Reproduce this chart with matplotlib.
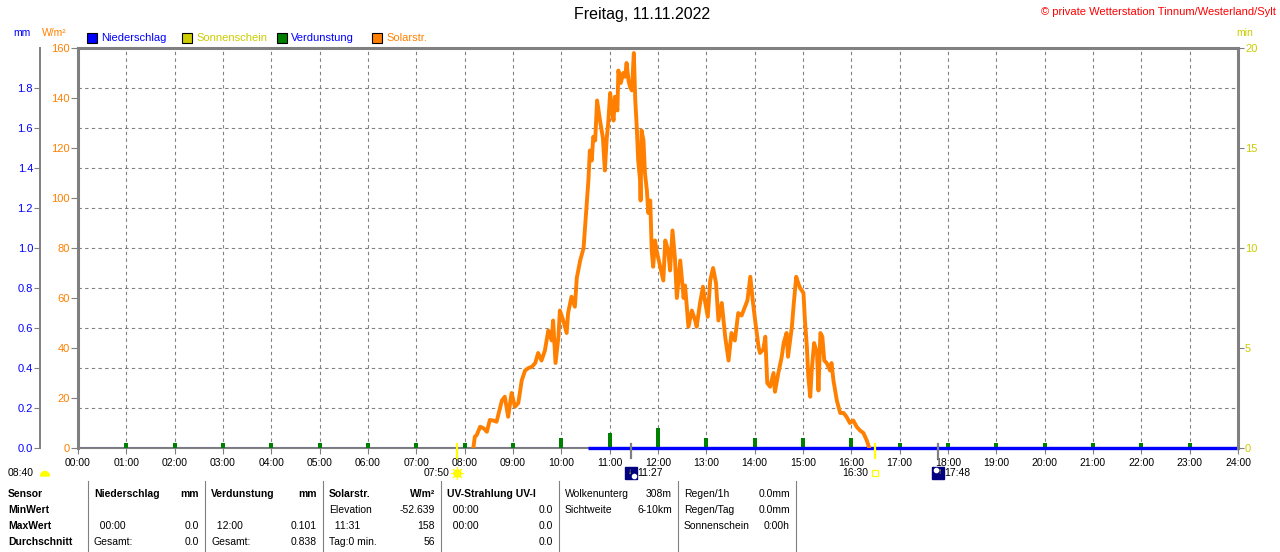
import numpy as np
import matplotlib
matplotlib.use("Agg")
import matplotlib.pyplot as plt
from matplotlib.patches import Rectangle, Wedge
import matplotlib.transforms as mtransforms

plt.rcParams['font.family'] = ['Liberation Sans', 'DejaVu Sans']

# ---- data ----
title = "Freitag, 11.11.2022"
credit = "\u00a9 private Wetterstation Tinnum/Westerland/Sylt"

hour_labels = ["%02d:00" % h for h in range(25)]

# Solarstrahlung W/m2 (time in decimal hours)
solar_t = [8.18, 8.21, 8.25, 8.32, 8.39, 8.46, 8.52, 8.59, 8.66, 8.77, 8.83, 8.90, 8.97,
           9.04, 9.11, 9.18, 9.25, 9.32, 9.39, 9.46, 9.52, 9.59, 9.66, 9.73, 9.80, 9.83,
           9.88, 9.94, 9.97, 10.04, 10.11, 10.14, 10.21, 10.28, 10.32, 10.39, 10.46, 10.49,
           10.53, 10.56, 10.59, 10.63, 10.66, 10.70, 10.74, 10.80, 10.86, 10.90, 10.94, 10.97,
           11.01, 11.04, 11.08, 11.11, 11.16, 11.18, 11.23, 11.28, 11.32, 11.35, 11.39, 11.42,
           11.46, 11.50, 11.53, 11.56, 11.59, 11.63, 11.64, 11.66, 11.70, 11.73, 11.77, 11.80,
           11.84, 11.87, 11.90, 11.94, 11.97, 12.04, 12.11, 12.15, 12.21, 12.25, 12.30, 12.35,
           12.39, 12.46, 12.53, 12.56, 12.63, 12.70, 12.77, 12.80, 12.87, 12.93, 12.97, 13.03,
           13.08, 13.14, 13.20, 13.25, 13.32, 13.39, 13.46, 13.52, 13.59, 13.66, 13.73, 13.80,
           13.85, 13.91, 13.96, 14.01, 14.08, 14.11, 14.18, 14.22, 14.26, 14.32, 14.39, 14.42,
           14.49, 14.56, 14.60, 14.66, 14.69, 14.77, 14.81, 14.86, 14.90, 14.94, 15.01, 15.04,
           15.08, 15.11, 15.15, 15.18, 15.23, 15.29, 15.32, 15.36, 15.40, 15.44, 15.49, 15.56,
           15.59, 15.63, 15.70, 15.77, 15.84, 15.90, 15.97, 16.04, 16.11, 16.18, 16.25, 16.32,
           16.37]
solar_v = [0, 4.5, 5.2, 8.5, 7.9, 6.5, 11.2, 11, 10.5, 19, 20.5, 12.5, 22,
           16.5, 18, 27, 31, 32, 32.5, 34, 38, 35, 39, 47, 43, 51,
           34, 44.5, 55, 51, 46, 54, 60.5, 56.5, 68, 75, 80, 88,
           99, 107, 119, 115, 124.5, 123, 139, 131, 124, 111, 124, 130,
           142, 136.5, 131, 140.5, 135, 151, 146, 150, 148.5, 154, 147, 144.5,
           143, 158, 139, 128.5, 115, 107, 99, 127, 123, 110, 103, 94,
           99, 79, 72.5, 83, 79, 73, 67, 83, 79, 71, 87, 76,
           60, 75, 60, 65, 48.5, 55, 51, 48.5, 58, 64.5, 59, 52.5,
           67, 72, 66, 51, 58, 44.5, 35, 46, 43, 54, 53, 56.5,
           59, 68.5, 59, 51, 40.5, 38, 39.5, 44.5, 26, 24.5, 30, 22.5,
           30, 36.5, 42, 46, 36.5, 48.5, 58, 68.5, 66, 64, 62, 51,
           40.5, 28.5, 20.5, 31, 42, 38, 23, 46, 44.5, 35, 34, 31,
           34, 27, 19, 14, 14, 12.5, 10, 11, 8.5, 7, 6, 3,
           0]

# Verdunstung mm (hourly)
evap_t = list(range(1, 24))
evap_v = [0.025, 0.025, 0.025, 0.025, 0.025, 0.025, 0.025, 0.025, 0.025,
          0.05, 0.075, 0.101, 0.05, 0.05, 0.05, 0.05,
          0.025, 0.025, 0.025, 0.025, 0.025, 0.025, 0.025]

# Niederschlag mm
rain_t = [10.55, 24.0]
rain_v = [0.0, 0.0]

# sun / moon events
sunrise, sunset = 7 + 50 / 60, 16.5
moonset, moonrise = 11 + 27 / 60, 17.8
daylen_label = "08:40"

mm_ticks = [0.0, 0.2, 0.4, 0.6, 0.8, 1.0, 1.2, 1.4, 1.6, 1.8]
wm_ticks = [0, 20, 40, 60, 80, 100, 120, 140, 160]
min_ticks = [0, 5, 10, 15, 20]

table_rows = ["Sensor", "MinWert", "MaxWert", "Durchschnitt"]
table_cols = [
    # (left x, right x, [(row, left text, right text, bold)])
    (88, 205, [(0, "Niederschlag", "mm", True), (2, "  00:00", "0.0", False),
               (3, "Gesamt:", "0.0", False)]),
    (205, 323, [(0, "Verdunstung", "mm", True), (2, "  12:00", "0.101", False),
                (3, "Gesamt:", "0.838", False)]),
    (323, 441, [(0, "Solarstr.", "W/m\u00b2", True), (1, "Elevation", "-52.639", False),
                (2, "  11:31", "158", False), (3, "Tag:0 min.", "56", False)]),
    (441, 559, [(0, "UV-Strahlung UV-I", "", True), (1, "  00:00", "0.0", False),
                (2, "  00:00", "0.0", False), (3, "", "0.0", False)]),
    (559, 678, [(0, "Wolkenunterg", "308m", False), (1, "Sichtweite", "6-10km", False)]),
    (678, 796, [(0, "Regen/1h", "0.0mm", False), (1, "Regen/Tag", "0.0mm", False),
                (2, "Sonnenschein", "0:00h", False)]),
]

GREY = '#808080'
BLUE = '#0000ff'
ORANGE = '#ff8000'
YEL = '#cccc00'
GREEN = '#008000'
FS = 7.5

W, H = 1280, 552


def fx(x):
    return x / W


def fy(y):
    return 1 - y / H


fig = plt.figure(figsize=(12.8, 5.52), dpi=100)
ax = fig.add_axes([fx(78), fy(448), 1160 / W, 400 / H])

# mm axis (main), spine shifted to the left (set position first: it resets ticks)
ax.spines['left'].set_position(('axes', -38 / 1160))
ax.spines['left'].set_color(GREY)
ax.spines['left'].set_linewidth(1.4)
ax.spines['right'].set_visible(False)
ax.spines['top'].set_color(GREY)
ax.spines['top'].set_linewidth(2.2)
ax.spines['bottom'].set_color(GREY)
ax.spines['bottom'].set_linewidth(1.5)
ax.set_xlim(0, 24)
ax.set_ylim(0, 2.0)
ax.set_xticks(range(25))
ax.set_xticklabels(hour_labels, fontsize=FS)
ax.set_yticks(mm_ticks)
ax.set_yticklabels(["%.1f" % v for v in mm_ticks], fontsize=FS + 0.5, color=BLUE)
ax.tick_params(axis='y', length=4, color=GREY, pad=1)
ax.tick_params(axis='x', length=4, color=GREY, pad=3)
ax.grid(True, color=GREY, linestyle=(0, (3, 3)), linewidth=0.8)

ax.bar(evap_t, evap_v, width=0.08, color=GREEN, zorder=3)
ax.axhline(0, color=BLUE, lw=0.8, zorder=4)
ax.plot(rain_t, rain_v, color=BLUE, lw=2.4, zorder=4, clip_on=False, solid_capstyle='butt')

# W/m2 axis at the plot edge
axw = ax.twinx()
for s in ['top', 'bottom', 'right']:
    axw.spines[s].set_visible(False)
axw.spines['left'].set_color(GREY)
axw.spines['left'].set_linewidth(2.2)
axw.set_ylim(0, 160)
axw.yaxis.tick_left()
axw.set_yticks(wm_ticks)
axw.set_yticklabels([str(v) for v in wm_ticks], fontsize=FS + 0.5, color=ORANGE)
axw.tick_params(axis='y', length=5, color=GREY, pad=1)
axw.plot(solar_t, solar_v, color=ORANGE, lw=2.8, zorder=5)

# min axis on the right
axm = ax.twinx()
for s in ['top', 'bottom', 'left']:
    axm.spines[s].set_visible(False)
axm.spines['right'].set_color(GREY)
axm.spines['right'].set_linewidth(2.2)
axm.set_ylim(0, 20)
axm.set_yticks(min_ticks)
axm.set_yticklabels([str(v) for v in min_ticks], fontsize=FS + 0.5, color=YEL)
axm.tick_params(axis='y', length=4, color=GREY, pad=1)

# event marks below the x axis
trans = mtransforms.blended_transform_factory(ax.transData, ax.transAxes)
for t, c in [(sunrise, '#ffff00'), (sunset, '#ffff00'), (moonset, GREY), (moonrise, GREY)]:
    ax.plot([t, t], [0.01, -0.025], color=c, lw=1.6, transform=trans, clip_on=False, zorder=6)

ev_y = -25 / 400
ax.text(sunrise - 0.15, ev_y, "07:50", transform=trans, ha='right', va='center', fontsize=FS)
ax.plot([sunrise], [ev_y], marker='o', ms=5, color='#ffff00', mec='#ffee00',
        transform=trans, clip_on=False)
ax.plot([sunrise], [ev_y], marker=(8, 2, 0), ms=9, color='#ffff00', mew=0.8,
        transform=trans, clip_on=False)
ax.text(sunset - 0.15, ev_y, "16:30", transform=trans, ha='right', va='center', fontsize=FS)
ax.plot([sunset], [ev_y], marker='s', ms=4, mfc='none', mec='#ffff00', mew=0.9,
        transform=trans, clip_on=False)
for t, lab, arrow in [(moonset, "11:27", "\u2193"), (moonrise, "17:48", "\u2191")]:
    down = arrow == "\u2193"
    ax.plot([t], [ev_y], marker='s', ms=8, color='#000080', transform=trans, clip_on=False)
    ax.plot([t + (0.05 if down else -0.05)], [ev_y + (-0.008 if down else 0.008)],
            marker='o', ms=3, color='white', transform=trans, clip_on=False)
    ax.text(t + (-0.03 if down else 0.03), ev_y, arrow, transform=trans,
            ha='center', va='center', fontsize=6, color='#ffff00', fontweight='bold')
    ax.text(t + 0.12, ev_y, lab, transform=trans, ha='left', va='center', fontsize=FS)

fig.text(fx(8), fy(473), daylen_label, ha='left', va='center', fontsize=FS)
fig.add_artist(Wedge((45 / 100, (H - 476) / 100), 0.045, 0, 180,
                     transform=fig.dpi_scale_trans, color='#ffff00'))

# title, credit, unit labels
fig.text(fx(642), fy(15), title, ha='center', va='center', fontsize=11.5)
fig.text(fx(1276), fy(12), credit, ha='right', va='center', fontsize=8, color='#ff0000')
fig.text(fx(22), fy(33), "mm", ha='center', va='center', fontsize=FS, color=BLUE)
fig.text(fx(54), fy(33), "W/m\u00b2", ha='center', va='center', fontsize=FS, color=ORANGE)
fig.text(fx(1245), fy(33), "min", ha='center', va='center', fontsize=FS, color=YEL)

# legend
legend_items = [("Niederschlag", BLUE, BLUE), ("Sonnenschein", YEL, YEL),
                ("Verdunstung", GREEN, BLUE), ("Solarstr.", ORANGE, ORANGE)]
leg_x = [87, 182, 277, 372]
for (lab, fc, tc), x in zip(legend_items, leg_x):
    fig.add_artist(Rectangle((fx(x), fy(43)), 10 / W, 10 / H, transform=fig.transFigure,
                             facecolor=fc, edgecolor='black', lw=0.8))
    fig.text(fx(x + 14), fy(38), lab, ha='left', va='center', fontsize=FS + 0.5, color=tc)

# info table
row_y = [494, 510, 526, 542]
for lab, y in zip(table_rows, row_y):
    fig.text(fx(8), fy(y), lab, ha='left', va='center', fontsize=FS, fontweight='bold')
for left, right, cells in table_cols:
    fig.add_artist(plt.Line2D([fx(left), fx(left)], [fy(481), 0], transform=fig.transFigure,
                              color=GREY, lw=0.8))
    for r, lt, rt, bold in cells:
        w = 'bold' if bold else 'normal'
        fig.text(fx(left + 6), fy(row_y[r]), lt, ha='left', va='center', fontsize=FS, fontweight=w)
        fig.text(fx(right - 6), fy(row_y[r]), rt, ha='right', va='center', fontsize=FS, fontweight=w)
fig.add_artist(plt.Line2D([fx(796), fx(796)], [fy(481), 0], transform=fig.transFigure,
                          color=GREY, lw=0.8))

fig.savefig("out.png", dpi=100)
